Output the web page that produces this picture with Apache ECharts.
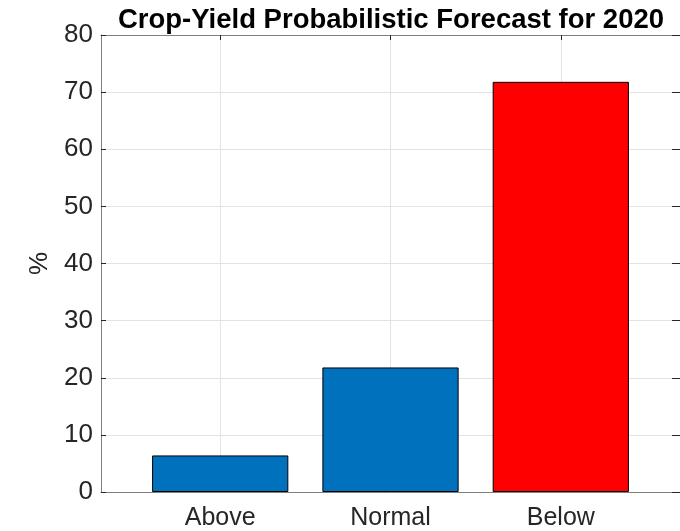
<!DOCTYPE html>
<html>
<head>
<meta charset="utf-8">
<script src="https://cdn.jsdelivr.net/npm/echarts@6/dist/echarts.min.js"></script>
<style>html,body{margin:0;padding:0;background:#fff;}#c{width:680px;height:531px;}</style>
</head>
<body>
<div id="c"></div>
<script>
const categories = ['Above', 'Normal', 'Below'];
const positions = [1, 2, 3];
const values = [6.4, 21.8, 71.8];
const barColors = ['#0072BD', '#0072BD', '#FF0000'];
const yTicks = [0, 10, 20, 30, 40, 50, 60, 70, 80];
const titleText = 'Crop-Yield Probabilistic Forecast for 2020';
const yName = '%';

const font = 'Liberation Sans, Arial, Helvetica, sans-serif';
const axisColor = '#7f7f7f';
const textColor = '#262626';

const chart = echarts.init(document.getElementById('c'), null, {renderer: 'canvas'});
const data = positions.map((p, i) => ({value: [p, values[i]], itemStyle: {color: barColors[i]}}));

chart.setOption({
  animation: false,
  backgroundColor: '#fff',
  title: {
    text: titleText, left: 386, top: 1, textAlign: 'center',
    textStyle: {fontFamily: font, fontSize: 27.5, fontWeight: 'bold', color: '#000'}
  },
  grid: {left: 101, right: -3, top: 35, bottom: 38, containLabel: false},
  xAxis: [{
    type: 'value', min: 0.3, max: 3.7, position: 'bottom',
    axisLine: {show: true, onZero: false, lineStyle: {color: axisColor, width: 1}},
    axisTick: {show: true, inside: true, length: 5, customValues: positions, lineStyle: {color: textColor}},
    axisLabel: {show: true, customValues: positions, margin: 14, fontFamily: font, fontSize: 25, color: textColor,
      formatter: v => categories[positions.indexOf(Math.round(v))] || ''},
    splitLine: {show: true, lineStyle: {color: '#e3e3e3', width: 1}}
  }, {
    type: 'value', min: 0.3, max: 3.7, position: 'top',
    axisLine: {show: true, onZero: false, lineStyle: {color: axisColor, width: 1}},
    axisTick: {show: true, inside: true, length: 5, customValues: positions, lineStyle: {color: textColor}},
    axisLabel: {show: false},
    splitLine: {show: false}
  }],
  yAxis: [{
    type: 'value', min: 0, max: 80, interval: 10, position: 'left',
    name: yName, nameLocation: 'middle', nameGap: 38, nameRotate: 90,
    nameTextStyle: {fontFamily: font, fontSize: 26, color: textColor},
    axisLine: {show: true, onZero: false, lineStyle: {color: axisColor, width: 1}},
    axisTick: {show: true, inside: true, length: 5, lineStyle: {color: textColor}},
    axisLabel: {show: true, margin: 8, fontFamily: font, fontSize: 26, color: textColor,
      formatter: v => yTicks.includes(v) ? String(v) : ''},
    splitLine: {show: true, lineStyle: {color: '#e3e3e3', width: 1}}
  }, {
    type: 'value', min: 0, max: 80, interval: 10, position: 'right',
    axisLine: {show: false},
    axisTick: {show: true, inside: true, length: 8, lineStyle: {color: textColor}},
    axisLabel: {show: false},
    splitLine: {show: false}
  }],
  series: [{
    type: 'bar', xAxisIndex: 0, yAxisIndex: 0,
    barWidth: '80%',
    data: data,
    itemStyle: {borderColor: '#000', borderWidth: 1}
  }]
});
</script>
</body>
</html>
